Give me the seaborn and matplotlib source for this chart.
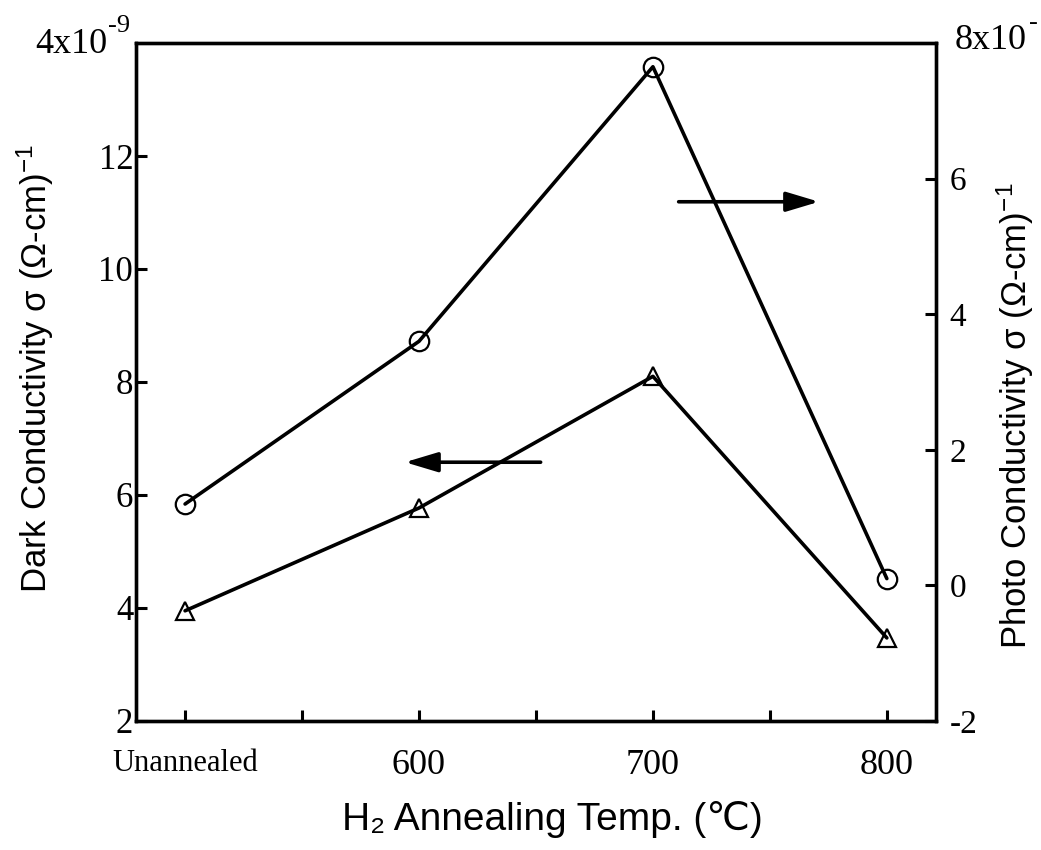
import numpy as np
import pandas as pd
import matplotlib
matplotlib.use("Agg")
import matplotlib.pyplot as plt
import seaborn as sns

# ---- data ----
categories = ["Unannealed", "600", "700", "800"]
dark_conductivity = [3.95, 5.77, 8.10, 3.47]    # left axis (x10^-9)
photo_conductivity = [1.20, 3.60, 7.65, 0.10]   # right axis
left_ticks = [2, 4, 6, 8, 10, 12]
left_tick_labels = ["2", "4", "6", "8", "10", "12"]
right_ticks = [-2, 0, 2, 4, 6]
right_tick_labels = ["-2", "0", "2", "4", "6"]

sns.set_style("white")
plt.rcParams["font.family"] = ["Liberation Serif", "DejaVu Serif"]
plt.rcParams["mathtext.fontset"] = "custom"
plt.rcParams["mathtext.rm"] = "Liberation Sans"
plt.rcParams["mathtext.it"] = "Liberation Sans:italic"
plt.rcParams["mathtext.bf"] = "Liberation Sans:bold"
plt.rcParams["mathtext.default"] = "regular"
for k in ("text.color", "axes.labelcolor", "xtick.color", "ytick.color", "axes.edgecolor"):
    plt.rcParams[k] = "black"

xpos = np.arange(len(categories))
df = pd.DataFrame({"x": xpos, "dark": dark_conductivity, "photo": photo_conductivity})

fig = plt.figure(figsize=(10.41, 8.5), dpi=100)
ax = fig.add_axes([0.1306, 0.1518, 0.7685, 0.7976])
ax2 = ax.twinx()

sns.lineplot(data=df, x="x", y="dark", ax=ax, color="black", lw=2.6,
             marker="^", markersize=13, markerfacecolor="none",
             markeredgecolor="black", markeredgewidth=1.6)
sns.lineplot(data=df, x="x", y="photo", ax=ax2, color="black", lw=2.6,
             marker="o", markersize=14, markerfacecolor="none",
             markeredgecolor="black", markeredgewidth=1.6)

ax.set_xlim(-0.21, 3.21)
ax.set_ylim(2, 14)
ax2.set_ylim(-2, 8)

ax.set_xticks(xpos)
ax.set_xticklabels(categories)
ax.set_xticks(xpos[:-1] + 0.5, minor=True)
ax.set_yticks(left_ticks)
ax.set_yticklabels(left_tick_labels)
ax2.set_yticks(right_ticks)
ax2.set_yticklabels(right_tick_labels)

ax.tick_params(axis="x", which="both", direction="in", length=8, width=2.2,
               labelsize=26, pad=20, top=False, bottom=True)
ax.tick_params(axis="y", direction="in", length=8, width=2.2, labelsize=25,
               pad=2, left=True, right=False)
ax2.tick_params(axis="y", direction="in", length=8, width=2.2, labelsize=24,
                pad=10, right=True, left=False)
ax.get_xticklabels()[0].set_fontsize(22)

for a in (ax, ax2):
    for s in a.spines.values():
        s.set_linewidth(2.4)
        s.set_color("black")
        s.set_visible(True)

sans = ["Liberation Sans", "DejaVu Sans"]
ax.set_xlabel("H\u2082 Annealing Temp. (\u2103)", fontsize=28, family=sans)
ax.xaxis.set_label_coords(0.52, -0.118, transform=ax.transAxes)
ax.set_ylabel("Dark Conductivity \u03c3 (\u03a9-cm)$^{-1}$", fontsize=25, family=sans)
ax.yaxis.set_label_coords(-0.10, 0.52, transform=ax.transAxes)
ax2.set_ylabel("Photo Conductivity \u03c3 (\u03a9-cm)$^{-1}$", fontsize=25, family=sans)
ax2.yaxis.set_label_coords(1.073, 0.45, transform=ax.transAxes)

# axis multipliers at top
fig.text(0.034, 0.938, "4x10", fontsize=26, ha="left", va="baseline")
fig.text(0.104, 0.962, "-9", fontsize=19, ha="left", va="baseline")
fig.text(0.917, 0.942, "8x10", fontsize=26, ha="left", va="baseline")
fig.text(0.988, 0.966, "-", fontsize=19, ha="left", va="baseline")

# direction arrows
ax.annotate("", xy=(0.94, 6.58), xytext=(1.52, 6.58),
            arrowprops=dict(arrowstyle="-|>,head_length=1.0,head_width=0.3",
                            mutation_scale=20, lw=2.6, color="black", shrinkA=0, shrinkB=0))
ax.annotate("", xy=(2.71, 11.19), xytext=(2.11, 11.19),
            arrowprops=dict(arrowstyle="-|>,head_length=1.0,head_width=0.3",
                            mutation_scale=20, lw=2.6, color="black", shrinkA=0, shrinkB=0))

fig.savefig("out.png", dpi=100)
